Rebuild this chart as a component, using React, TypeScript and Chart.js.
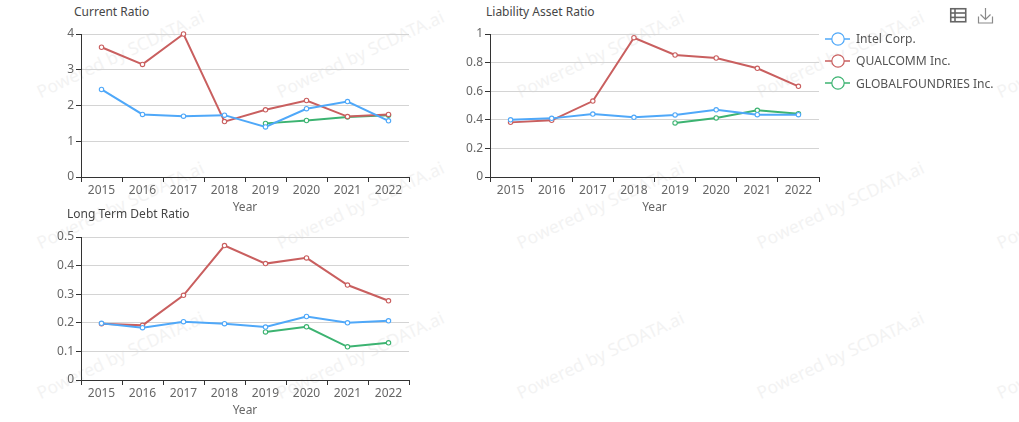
import React, { useEffect, useRef } from "react";
import { Chart, registerables } from "chart.js";

Chart.register(...registerables);

const years = ["2015", "2016", "2017", "2018", "2019", "2020", "2021", "2022"];

const currentIntel = [2.45, 1.75, 1.7, 1.73, 1.4, 1.91, 2.11, 1.57];
const currentQualcomm = [3.63, 3.15, 4.0, 1.55, 1.88, 2.14, 1.69, 1.75];
const currentGlobal = [null, null, null, null, 1.5, 1.58, 1.68, 1.73];

const liabilityIntel = [0.4, 0.41, 0.44, 0.417, 0.434, 0.47, 0.436, 0.436];
const liabilityQualcomm = [0.382, 0.396, 0.531, 0.974, 0.853, 0.832, 0.76, 0.634];
const liabilityGlobal = [null, null, null, null, 0.378, 0.413, 0.466, 0.443];

const debtIntel = [0.198, 0.183, 0.204, 0.197, 0.185, 0.222, 0.2, 0.207];
const debtQualcomm = [0.197, 0.191, 0.296, 0.47, 0.407, 0.427, 0.332, 0.277];
const debtGlobal = [null, null, null, null, 0.168, 0.186, 0.116, 0.13];

const seriesNames = ["Intel Corp.", "QUALCOMM Inc.", "GLOBALFOUNDRIES Inc."];
const seriesColors = ["#4fa8f9", "#c95f5f", "#3cb371"];

const FONT = '"Noto Sans", sans-serif';
const PAD = { left: 50, right: 12, top: 12, bottom: 38 };

const panels = [
  { title: "Current Ratio", titleX: 74, titleY: 11.5, left: 80.5, right: 409, top: 33.5, bottom: 177, max: 4, step: 1, data: [currentIntel, currentQualcomm, currentGlobal] },
  { title: "Liability Asset Ratio", titleX: 486, titleY: 11.5, left: 490, right: 819, top: 33.5, bottom: 177, max: 1, step: 0.2, data: [liabilityIntel, liabilityQualcomm, liabilityGlobal] },
  { title: "Long Term Debt Ratio", titleX: 67, titleY: 214, left: 80.5, right: 409, top: 236.5, bottom: 380, max: 0.5, step: 0.1, data: [debtIntel, debtQualcomm, debtGlobal] },
];

const wmCols = [-211, 29, 269, 509, 749, 989];
const wmRows = [44, 195, 345];

function Panel({ p }: { p: (typeof panels)[number] }) {
  const ref = useRef<HTMLCanvasElement>(null);
  useEffect(() => {
    const chart = new Chart(ref.current!, {
      type: "line",
      data: {
        labels: years,
        datasets: p.data.map((d, i) => ({
          label: seriesNames[i],
          data: d,
          borderColor: seriesColors[i],
          backgroundColor: "#ffffff",
          borderWidth: 2,
          pointRadius: 2.2,
          pointBorderWidth: 1.1,
          pointBackgroundColor: "#ffffff",
          pointBorderColor: seriesColors[i],
          tension: 0,
          spanGaps: false,
          clip: false,
        })),
      },
      options: {
        responsive: false,
        animation: false,
        devicePixelRatio: 1,
        layout: { autoPadding: false, padding: { left: 0, right: PAD.right, top: PAD.top, bottom: 0 } },
        plugins: { legend: { display: false }, title: { display: false }, tooltip: { enabled: false } },
        scales: {
          x: {
            type: "category",
            offset: true,
            afterFit: (s: any) => { s.height = PAD.bottom; },
            grid: { offset: true, drawOnChartArea: false, drawTicks: true, tickLength: 5, tickColor: "#333", tickWidth: 1 },
            border: { color: "#333", width: 1 },
            ticks: { color: "#666", font: { family: FONT, size: 12 }, padding: 1, maxRotation: 0, autoSkip: false },
            title: { display: true, text: "Year", color: "#666", font: { family: FONT, size: 12 }, padding: { top: 2, bottom: 0 } },
          },
          y: {
            min: 0,
            max: p.max,
            afterFit: (s: any) => { s.width = PAD.left; },
            grid: { color: "#d4d4d4", lineWidth: 1, drawTicks: true, tickLength: 5, tickColor: "#333" },
            border: { color: "#333", width: 1 },
            ticks: {
              stepSize: p.step,
              color: "#666",
              padding: 2,
              font: { family: FONT, size: 12 },
              callback: (v: any) => String(Math.round(Number(v) * 10) / 10),
            },
          },
        },
      },
    });
    return () => chart.destroy();
  }, []);
  const w = p.right - p.left + PAD.left + PAD.right;
  const h = p.bottom - p.top + PAD.top + PAD.bottom;
  return (
    <>
      <canvas
        ref={ref}
        width={w}
        height={h}
        style={{ position: "absolute", left: p.left - PAD.left, top: p.top - PAD.top, width: w, height: h }}
      />
      <div style={{ position: "absolute", left: p.titleX, top: p.titleY - 9, lineHeight: "18px", fontSize: 12, color: "#464646", fontFamily: FONT, whiteSpace: "nowrap" }}>
        {p.title}
      </div>
    </>
  );
}

export default function App() {
  return (
    <div style={{ position: "absolute", left: 0, top: 0, width: 1019, height: 422, overflow: "hidden", background: "#fff" }}>
      {wmRows.flatMap((y) =>
        wmCols.map((x) => (
          <div
            key={x + "-" + y}
            style={{ position: "absolute", left: x, top: y, width: 180, fontSize: 17.5, lineHeight: "20px", color: "#f3f3f3", fontFamily: FONT, whiteSpace: "nowrap", transform: "rotate(-25deg)", transformOrigin: "center" }}
          >
            Powered by SCDATA.ai
          </div>
        ))
      )}
      {panels.map((p) => (
        <Panel key={p.title} p={p} />
      ))}
      {seriesNames.map((n, i) => (
        <div key={n} style={{ position: "absolute", left: 825, top: 38.6 + i * 22.2 - 10, height: 20, display: "flex", alignItems: "center" }}>
          <svg width={26} height={20} style={{ display: "block" }}>
            <line x1={0} y1={10} x2={25} y2={10} stroke={seriesColors[i]} strokeWidth={1.5} />
            <circle cx={13} cy={10} r={6.2} fill="#fff" stroke={seriesColors[i]} strokeWidth={1.2} />
          </svg>
          <span style={{ marginLeft: 5, fontSize: 12.1, color: "#555", fontFamily: FONT, whiteSpace: "nowrap" }}>{n}</span>
        </div>
      ))}
      <svg width={48} height={20} style={{ position: "absolute", left: 948, top: 6 }}>
        <g fill="none" stroke="#666" strokeWidth={1.6}>
          <rect x={2.75} y={2.75} width={15} height={13} />
          <line x1={2.75} y1={7} x2={17.75} y2={7} />
          <line x1={2.75} y1={11.4} x2={17.75} y2={11.4} />
          <line x1={7} y1={2.75} x2={7} y2={15.75} />
        </g>
        <g fill="none" stroke="#8a8a8a" strokeWidth={1.2}>
          <path d="M30.5 10.5v6.5h14v-6.5" />
          <path d="M37.5 2v11.5M32.5 8.5l5 5 5-5" />
        </g>
      </svg>
    </div>
  );
}
